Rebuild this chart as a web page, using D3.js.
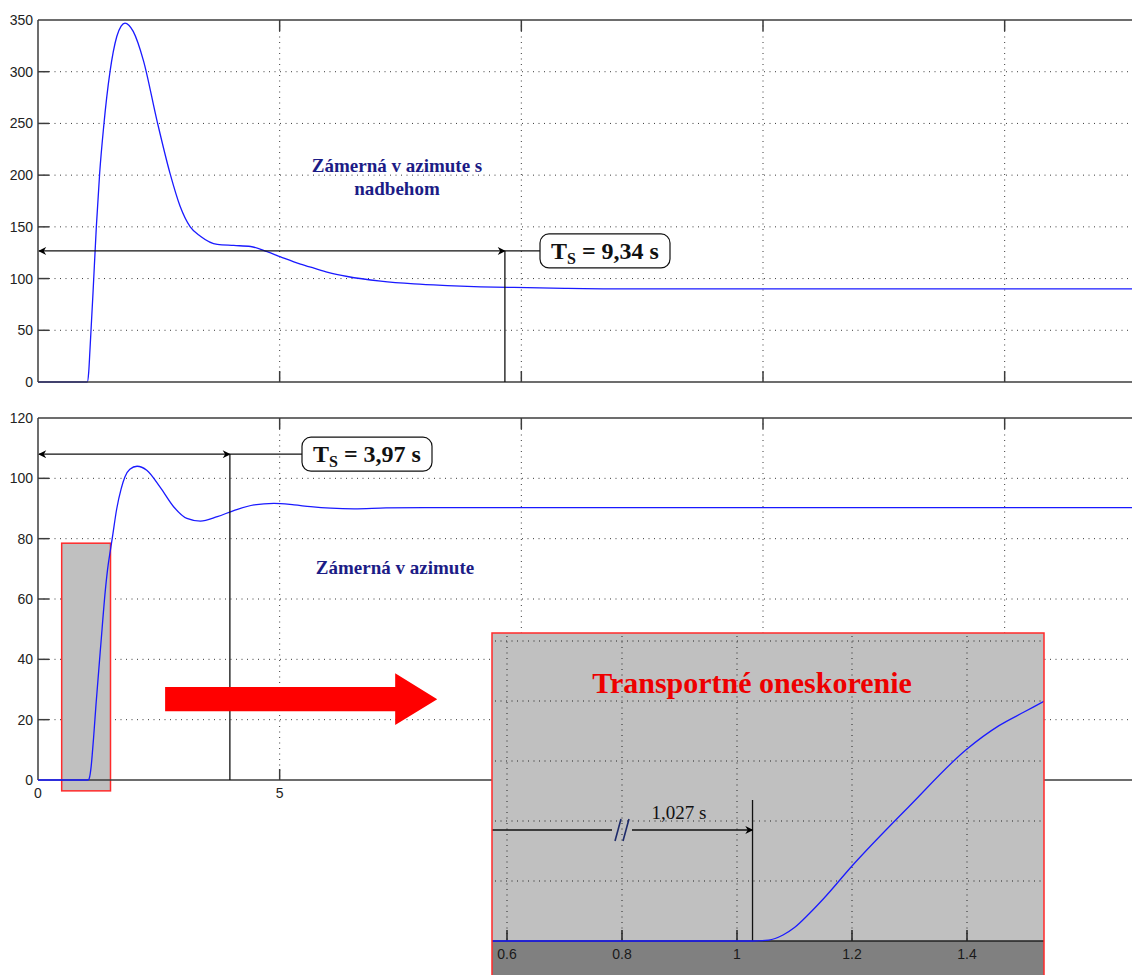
<!DOCTYPE html>
<html>
<head>
<meta charset="utf-8">
<script src="https://cdn.jsdelivr.net/npm/d3@7"></script>
<style>
  body { margin: 0; background: #fff; }
  svg { display: block; }
</style>
</head>
<body>
<div id="chart"></div>
<script>
// response with overshoot (top)
const topTime  = [0, 1.02, 1.05, 1.075, 1.138, 1.207, 1.276, 1.359, 1.49, 1.63, 1.72, 1.80, 1.88, 1.97, 2.18, 2.46, 2.73, 2.94, 3.15, 3.36, 3.71, 4.05, 4.40, 4.74, 5.02, 5.43, 5.71, 6.0, 6.4, 7.09, 7.78, 8.47, 9.16, 9.85, 10.9, 12, 23];
const topValue = [0, 0, 10, 31, 86, 150, 202, 247, 300, 334, 344, 347, 345, 339, 311, 253, 202, 170, 150, 141, 133, 132, 131, 126, 121, 114, 110, 106, 102, 97.5, 94.8, 93.2, 92, 91.4, 90.5, 90, 90];

// response without overshoot (bottom + zoomed inset)
const botTime  = [0, 1.027, 1.055, 1.08, 1.1, 1.125, 1.15, 1.2, 1.3, 1.4, 1.455, 1.5, 1.535, 1.63, 1.72, 1.80, 1.9, 2.05, 2.25, 2.53, 2.81, 3.08, 3.36, 3.71, 4.05, 4.47, 4.88, 5.30, 5.64, 6.06, 6.54, 7.2, 8, 23];
const botValue = [0, 0, 0.3, 2, 4.5, 9, 14, 25, 45, 64, 71.7, 76.4, 80, 90, 96.5, 100.5, 103, 104, 102.7, 97, 90.5, 86.7, 85.8, 87.3, 89.3, 91.2, 91.7, 91.2, 90.6, 90.1, 89.9, 90.2, 90.3, 90.3];

const xTicks = [0, 5, 10, 15, 20];
const topYTicks = [0, 50, 100, 150, 200, 250, 300, 350];
const botYTicks = [0, 20, 40, 60, 80, 100, 120];
const insetXTicks = [0.6, 0.8, 1, 1.2, 1.4];
const insetYTicks = [20, 40, 60, 80, 100];

// annotations: [time, level, label]
const settleTop = [9.66, 126.7, '9,34 s'];
const settleBot = [3.97, 108, '3,97 s'];
const deadTime = [1.027, '1,027 s'];
const zoomBox = [0.49, 1.50, -3.6, 78.5];   // t0, t1, v0, v1

const W = 1132, H = 975;
const svg = d3.select('#chart').append('svg')
    .attr('width', W)
    .attr('height', H)
    .style('font-family', '"Liberation Sans", Arial, sans-serif');

svg.append('rect').attr('width', W).attr('height', H).attr('fill', '#ffffff');

const defs = svg.append('defs');
defs.append('marker')
    .attr('id', 'arr')
    .attr('viewBox', '0 0 10 10')
    .attr('refX', 9).attr('refY', 5)
    .attr('markerWidth', 9).attr('markerHeight', 8)
    .attr('markerUnits', 'userSpaceOnUse')
    .attr('orient', 'auto-start-reverse')
    .append('path')
    .attr('d', 'M0,0 L10,5 L0,10 L3,5 z')
    .attr('fill', '#000');

const x = d3.scaleLinear().domain([0, 22.8]).range([38, 1140]);
const yTop = d3.scaleLinear().domain([0, 350]).range([382, 20]);
const yBot = d3.scaleLinear().domain([0, 120]).range([780, 418]);

const serif = '"Liberation Serif", "Times New Roman", serif';
const axisColor = '#3c3c3c';
const gridColor = '#3a3a3a';
const lineColor = '#1a1aff';
const tickLen = 11;

function drawGrid(g, y, yTicks) {
    const [y0, y1] = y.range();
    g.append('g').selectAll('line')
        .data(xTicks.filter(d => d > 0))
        .join('line')
        .attr('x1', d => x(d)).attr('x2', d => x(d))
        .attr('y1', y1).attr('y2', y0)
        .attr('stroke', gridColor)
        .attr('stroke-width', 1)
        .attr('stroke-dasharray', '1,4.5');
    g.append('g').selectAll('line')
        .data(yTicks.slice(1, -1))
        .join('line')
        .attr('x1', x(0)).attr('x2', W)
        .attr('y1', d => y(d)).attr('y2', d => y(d))
        .attr('stroke', gridColor)
        .attr('stroke-width', 1)
        .attr('stroke-dasharray', '1,4.5');
}

function drawFrame(g, y, yTicks, showX) {
    const [y0, y1] = y.range();
    // box (no right edge inside the picture)
    g.append('line').attr('x1', x(0)).attr('x2', W).attr('y1', y1).attr('y2', y1)
        .attr('stroke', axisColor).attr('stroke-width', 1.5);
    g.append('line').attr('x1', x(0)).attr('x2', W).attr('y1', y0).attr('y2', y0)
        .attr('stroke', axisColor).attr('stroke-width', 1.5);
    g.append('line').attr('x1', x(0)).attr('x2', x(0)).attr('y1', y1).attr('y2', y0)
        .attr('stroke', axisColor).attr('stroke-width', 1.5);

    // inward ticks
    const xt = xTicks.filter(d => d > 0);
    g.append('g').selectAll('line.bt').data(xt).join('line')
        .attr('x1', d => x(d)).attr('x2', d => x(d))
        .attr('y1', y0).attr('y2', y0 - tickLen)
        .attr('stroke', axisColor).attr('stroke-width', 1.5);
    g.append('g').selectAll('line.tt').data(xt).join('line')
        .attr('x1', d => x(d)).attr('x2', d => x(d))
        .attr('y1', y1).attr('y2', y1 + tickLen)
        .attr('stroke', axisColor).attr('stroke-width', 1.5);
    g.append('g').selectAll('line.lt').data(yTicks.slice(1, -1)).join('line')
        .attr('x1', x(0)).attr('x2', x(0) + tickLen)
        .attr('y1', d => y(d)).attr('y2', d => y(d))
        .attr('stroke', axisColor).attr('stroke-width', 1.5);

    g.append('g').selectAll('text').data(yTicks).join('text')
        .attr('x', x(0) - 5)
        .attr('y', d => y(d))
        .attr('dy', '0.36em')
        .attr('text-anchor', 'end')
        .attr('font-size', 14)
        .attr('fill', '#222')
        .text(d => d);

    if (showX) {
        g.append('g').selectAll('text').data(xTicks).join('text')
            .attr('x', d => x(d))
            .attr('y', y0 + 18)
            .attr('text-anchor', 'middle')
            .attr('font-size', 14)
            .attr('fill', '#222')
            .text(d => d);
    }
}

function tsLabel(g, px, py, label) {
    const bw = 130, bh = 34;
    g.append('rect')
        .attr('x', px).attr('y', py - bh / 2)
        .attr('width', bw).attr('height', bh)
        .attr('rx', 9)
        .attr('fill', '#fff')
        .attr('stroke', '#111')
        .attr('stroke-width', 1.2);
    const t = g.append('text')
        .attr('x', px + 11)
        .attr('y', py + 8)
        .attr('font-family', serif)
        .attr('font-weight', 'bold')
        .attr('font-size', 24)
        .attr('fill', '#111');
    t.append('tspan').text('T');
    t.append('tspan').attr('dy', 5).attr('font-size', 16).text('S');
    t.append('tspan').attr('dy', -5).text(' = ' + label);
}

function settleMark(g, y, s, boxX) {
    const px = x(s[0]), py = y(s[1]);
    g.append('line')
        .attr('x1', x(0) + 1).attr('x2', px)
        .attr('y1', py).attr('y2', py)
        .attr('stroke', '#111').attr('stroke-width', 1.3)
        .attr('marker-start', 'url(#arr)')
        .attr('marker-end', 'url(#arr)');
    g.append('line')
        .attr('x1', px).attr('x2', boxX)
        .attr('y1', py).attr('y2', py)
        .attr('stroke', '#111').attr('stroke-width', 1.3);
    g.append('line')
        .attr('x1', px).attr('x2', px)
        .attr('y1', py).attr('y2', y(0))
        .attr('stroke', '#111').attr('stroke-width', 1.3);
    tsLabel(g, boxX, py, s[2]);
}

// ---------- top plot ----------
const gTop = svg.append('g');
drawGrid(gTop, yTop, topYTicks);
const lineTop = d3.line().x((d, i) => x(topTime[i])).y(d => yTop(d)).curve(d3.curveMonotoneX);
gTop.append('path')
    .attr('d', lineTop(topValue))
    .attr('fill', 'none')
    .attr('stroke', lineColor)
    .attr('stroke-width', 1.3);
drawFrame(gTop, yTop, topYTicks, false);
settleMark(gTop, yTop, settleTop, 540);

const titleTop = gTop.append('text')
    .attr('x', 397).attr('y', 172)
    .attr('text-anchor', 'middle')
    .attr('font-family', serif)
    .attr('font-weight', 'bold')
    .attr('font-size', 19)
    .attr('fill', '#1c1c86');
titleTop.append('tspan').attr('x', 397).text('Zámerná v azimute s');
titleTop.append('tspan').attr('x', 397).attr('dy', 23).text('nadbehom');

// ---------- bottom plot ----------
const gBot = svg.append('g');
drawGrid(gBot, yBot, botYTicks);
gBot.append('rect')
    .attr('x', x(zoomBox[0]))
    .attr('y', yBot(zoomBox[3]))
    .attr('width', x(zoomBox[1]) - x(zoomBox[0]))
    .attr('height', yBot(zoomBox[2]) - yBot(zoomBox[3]))
    .attr('fill', '#c0c0c0')
    .attr('stroke', '#ff2a2a')
    .attr('stroke-width', 1.5);
drawFrame(gBot, yBot, botYTicks, true);
const lineBot = d3.line().x((d, i) => x(botTime[i])).y(d => yBot(d)).curve(d3.curveMonotoneX);
gBot.append('path')
    .attr('d', lineBot(botValue))
    .attr('fill', 'none')
    .attr('stroke', lineColor)
    .attr('stroke-width', 1.3);
settleMark(gBot, yBot, settleBot, 302);

gBot.append('text')
    .attr('x', 395).attr('y', 574)
    .attr('text-anchor', 'middle')
    .attr('font-family', serif)
    .attr('font-weight', 'bold')
    .attr('font-size', 19)
    .attr('fill', '#1c1c86')
    .text('Zámerná v azimute');

// big red arrow pointing to the zoom
const arrowT = [2.63, 7.39, 8.26];  // tail, head base, tip
const arrowV = [26.8, 4, 8.6];      // centre level, half body, half head
gBot.append('path')
    .attr('d', d3.line()([
        [x(arrowT[0]), yBot(arrowV[0] + arrowV[1])],
        [x(arrowT[1]), yBot(arrowV[0] + arrowV[1])],
        [x(arrowT[1]), yBot(arrowV[0] + arrowV[2])],
        [x(arrowT[2]), yBot(arrowV[0])],
        [x(arrowT[1]), yBot(arrowV[0] - arrowV[2])],
        [x(arrowT[1]), yBot(arrowV[0] - arrowV[1])],
        [x(arrowT[0]), yBot(arrowV[0] - arrowV[1])]
    ]) + 'Z')
    .attr('fill', '#ff0000');

// ---------- zoomed inset ----------
const inset = { left: 492, right: 1044, top: 633, axis: 941, bottom: 975 };
const ix = d3.scaleLinear().domain([0.6, 1.4]).range([507, 967]);
const iy = d3.scaleLinear().domain([0, 100]).range([inset.axis, 641]);

defs.append('clipPath').attr('id', 'insetClip')
    .append('rect')
    .attr('x', inset.left).attr('y', inset.top)
    .attr('width', inset.right - inset.left)
    .attr('height', inset.axis - inset.top + 1);

const gIn = svg.append('g');
gIn.append('rect')
    .attr('x', inset.left).attr('y', inset.top)
    .attr('width', inset.right - inset.left)
    .attr('height', inset.bottom - inset.top)
    .attr('fill', '#c0c0c0');
gIn.append('rect')
    .attr('x', inset.left).attr('y', inset.axis)
    .attr('width', inset.right - inset.left)
    .attr('height', inset.bottom - inset.axis)
    .attr('fill', '#808080');

gIn.append('g').selectAll('line').data(insetXTicks).join('line')
    .attr('x1', d => ix(d)).attr('x2', d => ix(d))
    .attr('y1', inset.top + 3).attr('y2', inset.axis)
    .attr('stroke', '#222').attr('stroke-width', 1)
    .attr('stroke-dasharray', '1,4.5');
gIn.append('g').selectAll('line').data(insetYTicks).join('line')
    .attr('x1', inset.left + 3).attr('x2', inset.right)
    .attr('y1', d => iy(d)).attr('y2', d => iy(d))
    .attr('stroke', '#222').attr('stroke-width', 1)
    .attr('stroke-dasharray', '1,4.5');

gIn.append('line')
    .attr('x1', inset.left).attr('x2', inset.right)
    .attr('y1', inset.axis).attr('y2', inset.axis)
    .attr('stroke', '#222').attr('stroke-width', 1.5);
gIn.append('g').selectAll('line').data(insetXTicks).join('line')
    .attr('x1', d => ix(d)).attr('x2', d => ix(d))
    .attr('y1', inset.axis).attr('y2', inset.axis - tickLen)
    .attr('stroke', '#222').attr('stroke-width', 1.5);
gIn.append('g').selectAll('text').data(insetXTicks).join('text')
    .attr('x', d => ix(d))
    .attr('y', inset.axis + 18)
    .attr('text-anchor', 'middle')
    .attr('font-size', 14)
    .attr('fill', '#1a1a1a')
    .text(d => d);

// dead time marker
const dx = ix(deadTime[0]);
gIn.append('line')
    .attr('x1', dx).attr('x2', dx)
    .attr('y1', 800).attr('y2', inset.axis)
    .attr('stroke', '#111').attr('stroke-width', 1.3);
gIn.append('line')
    .attr('x1', inset.left).attr('x2', 612)
    .attr('y1', 830).attr('y2', 830)
    .attr('stroke', '#111').attr('stroke-width', 1.3);
gIn.append('line')
    .attr('x1', 632).attr('x2', dx)
    .attr('y1', 830).attr('y2', 830)
    .attr('stroke', '#111').attr('stroke-width', 1.3)
    .attr('marker-end', 'url(#arr)');
[615, 623].forEach(sx => {
    gIn.append('line')
        .attr('x1', sx).attr('x2', sx + 6)
        .attr('y1', 841).attr('y2', 819)
        .attr('stroke', '#1d2a6a').attr('stroke-width', 1.6);
});
gIn.append('text')
    .attr('x', 679).attr('y', 819)
    .attr('text-anchor', 'middle')
    .attr('font-family', serif)
    .attr('font-size', 19)
    .attr('fill', '#111')
    .text(deadTime[1]);

const lineIn = d3.line().x((d, i) => ix(botTime[i])).y(d => iy(d)).curve(d3.curveMonotoneX);
gIn.append('path')
    .attr('clip-path', 'url(#insetClip)')
    .attr('d', lineIn(botValue))
    .attr('fill', 'none')
    .attr('stroke', lineColor)
    .attr('stroke-width', 1.3);

gIn.append('text')
    .attr('x', 752).attr('y', 693)
    .attr('text-anchor', 'middle')
    .attr('font-family', serif)
    .attr('font-weight', 'bold')
    .attr('font-size', 30)
    .attr('fill', '#ee0000')
    .text('Transportné oneskorenie');

gIn.append('path')
    .attr('d', `M${inset.left},${inset.bottom + 2} V${inset.top} H${inset.right} V${inset.bottom + 2}`)
    .attr('fill', 'none')
    .attr('stroke', '#ff2a2a')
    .attr('stroke-width', 1.5);
</script>
</body>
</html>
